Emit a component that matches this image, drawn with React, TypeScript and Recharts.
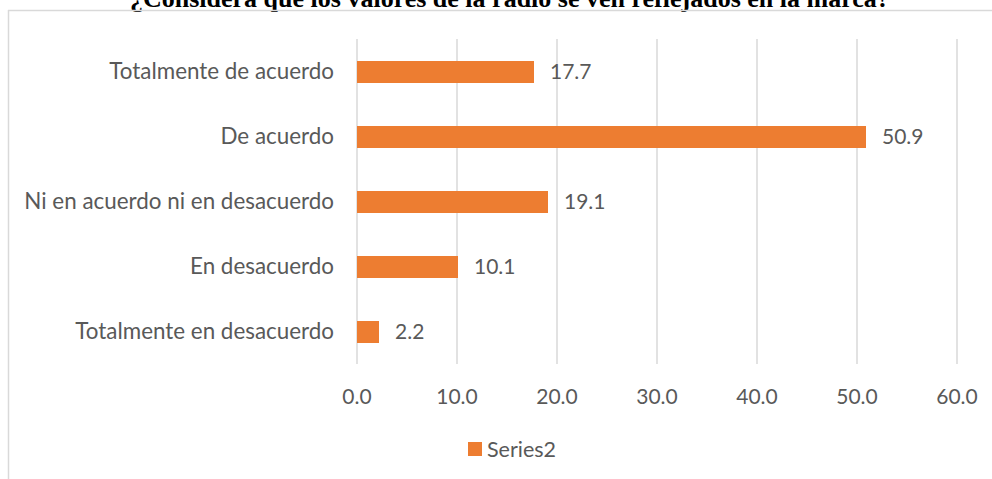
import React from "react";
import { BarChart, Bar, XAxis, YAxis, CartesianGrid, Legend, LabelList } from "recharts";

const categories = [
  "Totalmente de acuerdo",
  "De acuerdo",
  "Ni en acuerdo ni en desacuerdo",
  "En desacuerdo",
  "Totalmente en desacuerdo",
];
const series2 = [17.7, 50.9, 19.1, 10.1, 2.2];
const xTicks = [0, 10, 20, 30, 40, 50, 60];
const seriesName = "Series2";
const title = "¿Considera que los valores de la radio se ven reflejados en la marca?";

const data = categories.map((name, i) => ({ name, value: series2[i] }));

const FONT = "Lato, 'Noto Sans', sans-serif";
const GREY = "#595959";
const ORANGE = "#ED7D31";

const LegendContent = () => (
  <div style={{ display: "flex", alignItems: "center", fontFamily: FONT, fontSize: 21.5, color: GREY, lineHeight: "24px" }}>
    <span style={{ display: "inline-block", width: 14, height: 14, background: ORANGE, marginRight: 5 }} />
    <span>{seriesName}</span>
  </div>
);

export default function App() {
  return (
    <div style={{ position: "absolute", left: 0, top: 0, width: 992, height: 479, overflow: "hidden", background: "#fff" }}>
      <svg width={992} height={479} style={{ position: "absolute", left: 0, top: 0 }}>
        <text x={130} y={7} fontFamily="'Liberation Serif', 'Times New Roman', serif" fontWeight="bold" fontSize={26} fill="#000">
          {title}
        </text>
        <line x1={8.5} y1={10} x2={8.5} y2={479} stroke="#d9d9d9" strokeWidth={1.5} />
        <line x1={8} y1={10.5} x2={992} y2={10.5} stroke="#d9d9d9" strokeWidth={1.5} />
      </svg>
      <div style={{ position: "absolute", left: 0, top: 0 }}>
        <BarChart
          width={992}
          height={479}
          data={data}
          layout="vertical"
          margin={{ top: 39, right: 35, bottom: 55, left: 0 }}
          barCategoryGap="0%"
        >
          <CartesianGrid horizontal={false} vertical stroke="#d9d9d9" strokeWidth={1.5} />
          <XAxis
            type="number"
            domain={[0, 60]}
            ticks={xTicks}
            interval={0}
            tickFormatter={(v: number) => v.toFixed(1)}
            axisLine={false}
            tickLine={false}
            tickMargin={19}
            height={60}
            tick={{ fill: GREY, fontSize: 21, fontFamily: FONT }}
          />
          <YAxis
            type="category"
            dataKey="name"
            width={357}
            axisLine={false}
            tickLine={false}
            tickMargin={17}
            interval={0}
            tick={{ fill: GREY, fontSize: 22.4, fontFamily: FONT }}
          />
          <Legend
            layout="horizontal"
            verticalAlign="middle"
            align="center"
            wrapperStyle={{ top: 437, left: 468, width: "auto" }}
            content={<LegendContent />}
          />
          <Bar dataKey="value" name={seriesName} fill={ORANGE} barSize={22} isAnimationActive={false}>
            <LabelList
              dataKey="value"
              position="right"
              offset={16}
              formatter={(v: number) => v.toFixed(1)}
              style={{ fill: GREY, fontSize: 21, fontFamily: FONT }}
            />
          </Bar>
        </BarChart>
      </div>
    </div>
  );
}
